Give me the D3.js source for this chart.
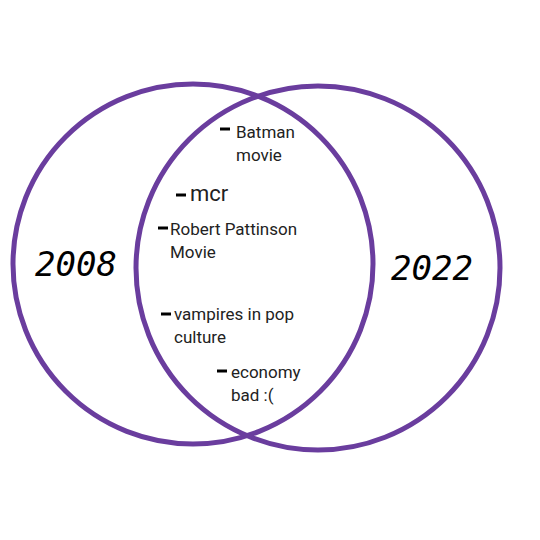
<!DOCTYPE html>
<html><head><meta charset="utf-8">
<script src="https://cdn.jsdelivr.net/npm/d3@7"></script>
<style>body{margin:0;background:#fff}</style></head>
<body><svg id="c" width="540" height="540"></svg>
<script>
const sets = ["2008", "2022"];
const setCenters = [[193, 264], [318, 268]];
const setRadii = [180, 182];
const setLabelPos = [[76, 266], [432, 270]];
const items = [
  {lines:["Batman","movie"], pos:[236,138], dash:[220,129], size:17},
  {lines:["mcr"], pos:[190,201], dash:[176,195], size:22},
  {lines:["Robert Pattinson","Movie"], pos:[170,235], dash:[158,228], size:17},
  {lines:["vampires in pop","culture"], pos:[174,320], dash:[161,314], size:17},
  {lines:["economy","bad :("], pos:[231,378], dash:[217,371], size:17}
];
const svg = d3.select("#c");
svg.selectAll("circle").data(sets).join("circle")
  .attr("cx",(d,i)=>setCenters[i][0]).attr("cy",(d,i)=>setCenters[i][1])
  .attr("r",(d,i)=>setRadii[i]).attr("fill","none")
  .attr("stroke","#6a3d9e").attr("stroke-width",5);
svg.selectAll("text.set").data(sets).join("text").attr("class","set")
  .attr("x",(d,i)=>setLabelPos[i][0]).attr("y",(d,i)=>setLabelPos[i][1])
  .attr("text-anchor","middle").attr("dominant-baseline","middle")
  .attr("font-family","'DejaVu Sans Mono', monospace").attr("font-size",34)
  .attr("font-style","italic").attr("fill","#000").text(d=>d);
items.forEach(it=>{
  svg.append("line").attr("x1",it.dash[0]).attr("x2",it.dash[0]+10)
    .attr("y1",it.dash[1]).attr("y2",it.dash[1]).attr("stroke","#000").attr("stroke-width",3);
  const t = svg.append("text").attr("font-family","Roboto").attr("font-size",it.size).attr("fill","#222");
  it.lines.forEach((l,j)=>t.append("tspan").attr("x",it.pos[0]).attr("y",it.pos[1]+j*23).text(l));
});
</script></body></html>
